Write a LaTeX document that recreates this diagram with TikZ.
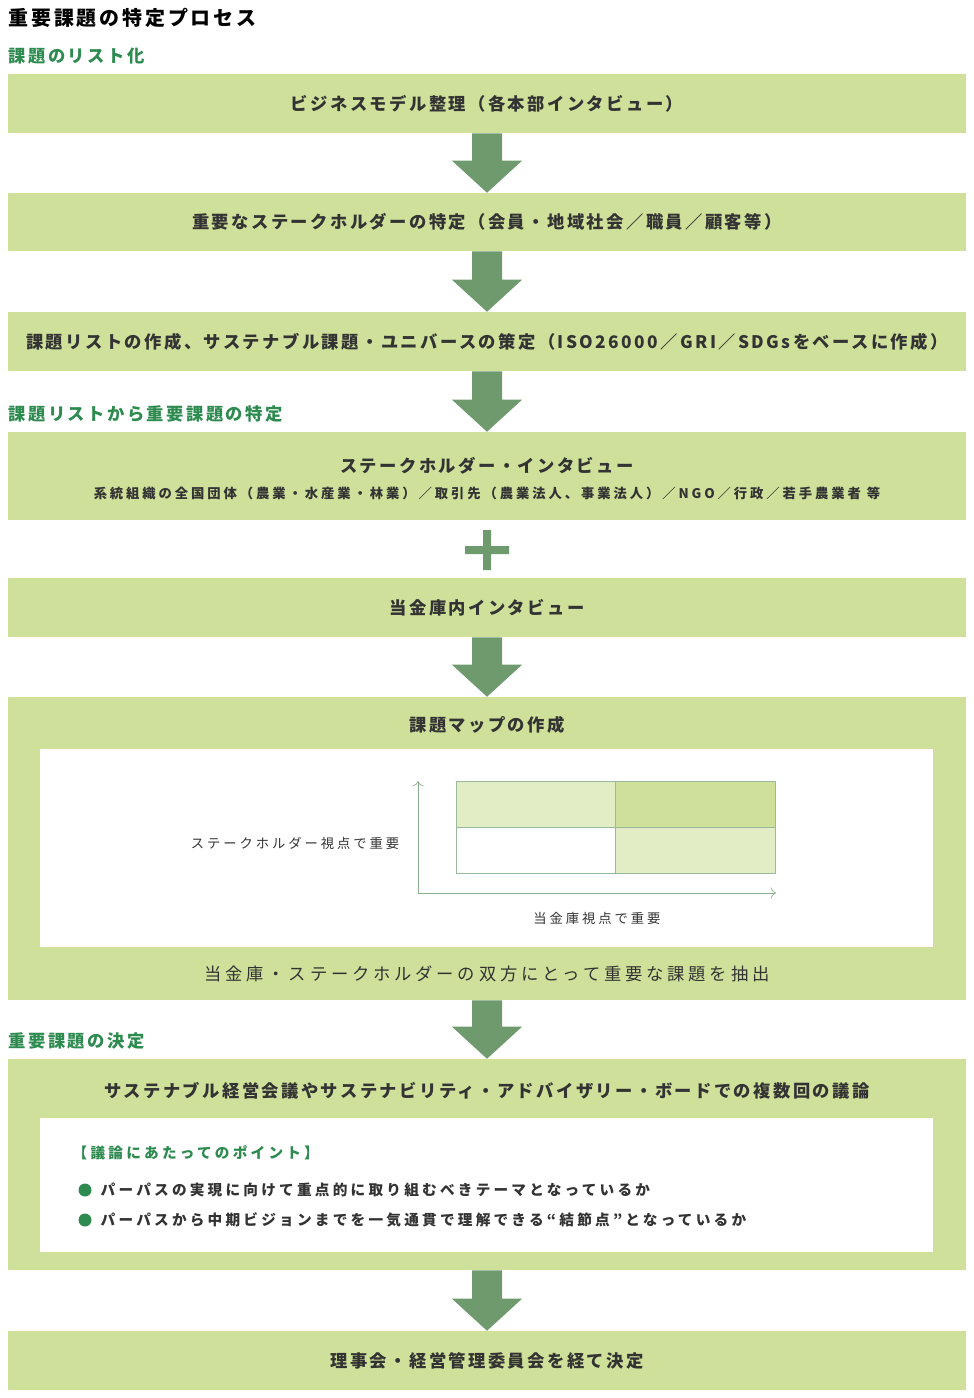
\documentclass[tikz,border=0pt]{standalone}
\usepackage{fontspec}
\setmainfont[LetterSpace=14]{Noto Sans CJK JP}
\newfontfamily\widefont[LetterSpace=22]{Noto Sans CJK JP}
\usetikzlibrary{calc,arrows.meta}
\definecolor{boxgreen}{HTML}{CFE09A}
\definecolor{paleGreen}{HTML}{E2EDC6}
\definecolor{arrowgreen}{HTML}{6E9A6E}
\definecolor{headgreen}{HTML}{2E8B50}
\definecolor{txt}{HTML}{333333}
\def\u{0.0264cm}
\tikzset{
  box/.style={fill=boxgreen, minimum width=958*\u, minimum height=#1*\u, inner sep=0pt},
  boxtext/.style={font=\fontsize{13}{15}\selectfont\bfseries, text=txt},
  smalltext/.style={font=\widefont\fontsize{10}{12}\selectfont\bfseries, text=txt},
  heading/.style={anchor=west, font=\fontsize{13}{15}\selectfont\bfseries, text=headgreen},
  axislabel/.style={font=\widefont\fontsize{10}{12}\selectfont, text=txt},
}
% fat arrow from one box to the next
\newcommand\flowarrow[2]{%
  \fill[arrowgreen] let \p1=(#1.south), \p2=(#2.north) in
    ({\x1-15*\u},\y1) -- ({\x1+15*\u},\y1) -- ({\x1+15*\u},{\y2+32*\u})
    -- ({\x1+35*\u},{\y2+32*\u}) -- (\x1,\y2) -- ({\x1-35*\u},{\y2+32*\u})
    -- ({\x1-15*\u},{\y2+32*\u}) -- cycle;}
\begin{document}
\begin{tikzpicture}[x=\u, y=-\u]
  \useasboundingbox (0,0) rectangle (974,1398);
  \node[anchor=west, font=\fontsize{15}{17}\selectfont\bfseries, text=black] (title) at (4,18) {重要課題の特定プロセス};
  \node[heading] (h1) at (4,56) {課題のリスト化};
  \node[box=59] (b1) at (487,103.5) {};
  \node[boxtext] at (b1) {ビジネスモデル整理（各本部インタビュー）};
  \node[box=58] (b2) at (487,222) {};
  \node[boxtext] at (b2) {重要なステークホルダーの特定（会員・地域社会／職員／顧客等）};
  \node[box=59] (b3) at (487,341.5) {};
  \node[boxtext] at (b3) {課題リストの作成、サステナブル課題・ユニバースの策定（ISO26000／GRI／SDGsをベースに作成）};
  \node[heading] (h2) at (4,414) {課題リストから重要課題の特定};
  \node[box=88] (b4) at (487,476) {};
  \node[boxtext] at (487,466) {ステークホルダー・インタビュー};
  \node[smalltext] at (487,493) {系統組織の全国団体（農業・水産業・林業）／取引先（農業法人、事業法人）／NGO／行政／若手農業者 等};
  \fill[arrowgreen] (465,546) rectangle (509,554) (483,530) rectangle (491,570);
  \node[box=59] (b5) at (487,607.5) {};
  \node[boxtext] at (b5) {当金庫内インタビュー};
  \node[box=303] (b6) at (487,848.5) {};
  \node[boxtext] at (487,725) {課題マップの作成};
  \fill[white] (40,749) rectangle (933,947);
  \fill[paleGreen] (456,781) rectangle (615,827);
  \fill[boxgreen] (615,781) rectangle (775,827);
  \fill[white] (456,827) rectangle (615,873);
  \fill[paleGreen] (615,827) rectangle (775,873);
  \draw[arrowgreen!70, line width=0.6pt] (456,781) rectangle (775,873) (456,827) -- (775,827) (615,781) -- (615,873);
  \coordinate (origin) at (418,893);
  \coordinate (ytip) at (418,781);
  \coordinate (xtip) at (776,893);
  \draw[arrowgreen!80, line width=0.5pt, -{To[length=4pt]}] (origin) -- (ytip);
  \draw[arrowgreen!80, line width=0.5pt, -{To[length=4pt]}] (origin) -- (xtip);
  \node[axislabel] at (295,843) {ステークホルダー視点で重要};
  \node[axislabel] at (597,918) {当金庫視点で重要};
  \node[text=txt, font=\widefont\fontsize{13}{15}\selectfont] at (487,974) {当金庫・ステークホルダーの双方にとって重要な課題を抽出};
  \node[heading] (h3) at (4,1041) {重要課題の決定};
  \node[box=211] (b7) at (487,1164.5) {};
  \node[boxtext] at (487,1091) {サステナブル経営会議やサステナビリティ・アドバイザリー・ボードでの複数回の議論};
  \fill[white] (40,1118) rectangle (933,1252);
  \node[heading, font=\widefont\fontsize{11}{13}\selectfont\bfseries] at (68,1153) {【議論にあたってのポイント】};
  \fill[headgreen] (85,1190) circle (6.5) (85,1220) circle (6.5);
  \node[smalltext, anchor=west, font=\widefont\fontsize{11}{13}\selectfont\bfseries] at (96,1190) {パーパスの実現に向けて重点的に取り組むべきテーマとなっているか};
  \node[smalltext, anchor=west, font=\widefont\fontsize{11}{13}\selectfont\bfseries] at (96,1220) {パーパスから中期ビジョンまでを一気通貫で理解できる“結節点”となっているか};
  \node[box=59] (b8) at (487,1360.5) {};
  \node[boxtext] at (b8) {理事会・経営管理委員会を経て決定};
  \flowarrow{b1}{b2}
  \flowarrow{b2}{b3}
  \flowarrow{b3}{b4}
  \flowarrow{b5}{b6}
  \flowarrow{b6}{b7}
  \flowarrow{b7}{b8}
\end{tikzpicture}
\end{document}
